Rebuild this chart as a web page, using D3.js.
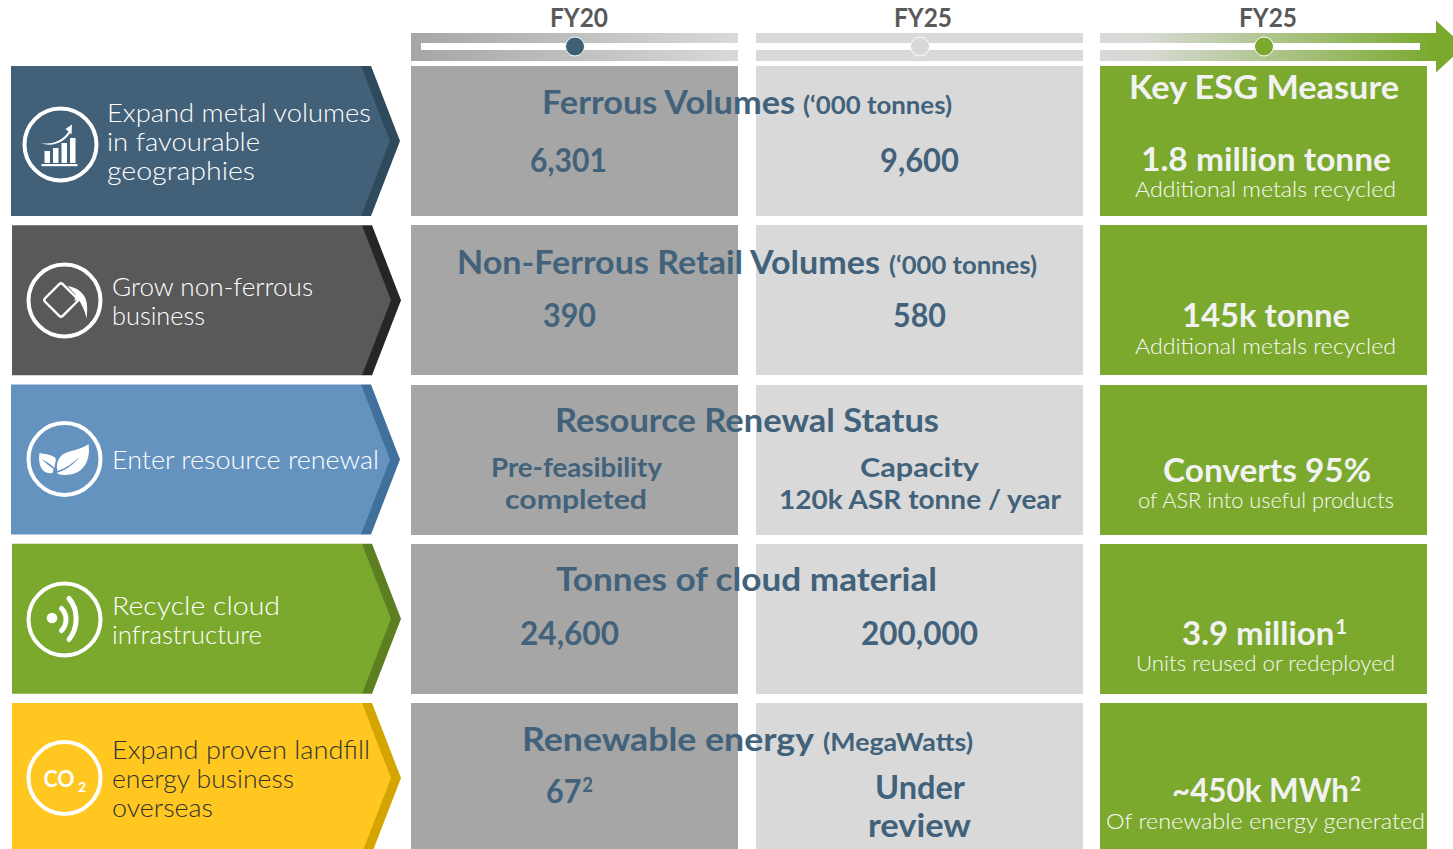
<!DOCTYPE html>
<html><head><meta charset="utf-8">
<script src="https://cdn.jsdelivr.net/npm/d3@7/dist/d3.min.js"></script>
<style>html,body{margin:0;padding:0;background:#fff;overflow:hidden}svg{display:block}text{font-family:Lato,"Open Sans",sans-serif}</style>
</head><body><svg id="c" width="1453" height="849"></svg>
<script>
const rowKeys = ["metal","nonferrous","renewal","cloud","landfill"];
const columns = ["FY20","FY25","ESG"];
const timelineLabels = ["FY20","FY25","FY25"];
const rowLabels = [
  ["Expand metal volumes","in favourable","geographies"],
  ["Grow non-ferrous","business"],
  ["Enter resource renewal"],
  ["Recycle cloud","infrastructure"],
  ["Expand proven landfill","energy business","overseas"]
];
const rowFill = ["#426077","#595959","#6593bf","#7aa92d","#ffc71f"];
const rowDark = ["#2f4a5c","#262626","#41709c","#5c7f22","#d4a500"];
const columnFill = ["#a6a6a6","#d9d9d9","#7aa92d"];
const nodeFill = ["#3f5f75","#d9d9d9","#7aa92d"];
const ink = "#41627a", pale = "#f2f2f2", light = "#fafafa";

// [text, x-left, x-right, baseline, size, weight, colour, superscript]
const T = [
 ["FY20",550,608,27,26,700,"#595959"],["FY25",894,952,27,26,700,"#595959"],["FY25",1239,1297,27,26,700,"#595959"],
 ["Ferrous Volumes",542,795,114,33,700,ink],["(‘000 tonnes)",803,952,114,25,700,ink],
 ["6,301",530,607,172,33,700,ink],["9,600",880,959,172,33,700,ink],
 ["Non-Ferrous Retail Volumes",457,880,274,33,700,ink],["(‘000 tonnes)",889,1037,274,25,700,ink],
 ["390",543,596,327,33,700,ink],["580",893,946,327,33,700,ink],
 ["Resource Renewal Status",555,939,432,33,700,ink],
 ["Pre-feasibility",491,662,477,27,700,ink],["completed",505,647,509,27,700,ink],
 ["Capacity",860,979,477,27,700,ink],["120k ASR tonne / year",779,1061,509,27,700,ink],
 ["Tonnes of cloud material",556,937,591,33,700,ink],["24,600",520,619,645,33,700,ink],["200,000",861,978,645,33,700,ink],
 ["Renewable energy",522,814,751,33,700,ink],["(MegaWatts)",823,973,751,25,700,ink],
 ["67",546,593,803,33,700,ink,"2"],
 ["Under",875,965,799,33,700,ink],["review",868,971,837,33,700,ink],
 ["Key ESG Measure",1129,1399,99,33,700,pale],
 ["1.8 million tonne",1141,1391,171,33,700,pale],["Additional metals recycled",1135,1396,197,21.5,300,light],
 ["145k tonne",1182,1350,327,33,700,pale],["Additional metals recycled",1135,1396,354,21.5,300,light],
 ["Converts 95%",1163,1371,482,33,700,pale],["of ASR into useful products",1138,1394,508,21.5,300,light],
 ["3.9 million",1182,1347,645,33,700,pale,"1"],["Units reused or redeployed",1136,1395,671,21.5,300,light],
 ["~450k MWh",1172,1361,802,33,700,pale,"2"],["Of renewable energy generated",1106,1425,829,21.5,300,light]
];
const labelX = [[107,[371,260,255]],[112,[313,205]],[112,[379]],[112,[280,262]],[112,[370,294,213]]];
const labelBase = [122,296,469,615,759];

const svg = d3.select("#c");
const defs = svg.append("defs");
const y = d3.scaleBand().domain(rowKeys).range([66,853]).paddingInner(9.25/159.25);
const x = d3.scaleBand().domain(columns).range([411,1427]).paddingInner(17.5/344.5);

function grad(id,x1,x2,stops){
  const g=defs.append("linearGradient").attr("id",id).attr("gradientUnits","userSpaceOnUse")
    .attr("x1",x1).attr("x2",x2).attr("y1",0).attr("y2",0);
  stops.forEach(s=>g.append("stop").attr("offset",s[0]).attr("stop-color",s[1]));
}
grad("g1",x("FY20"),x("FY20")+x.bandwidth(),[[0,"#a6a6a6"],[1,"#d9d9d9"]]);
grad("g3",x("ESG"),1436,[[0,"#d9d9d9"],[0.15,"#d6d9d2"],[1,"#7aa92d"]]);

const bandTop=33, bandBot=61;
const bandFill=["url(#g1)","#d9d9d9","url(#g3)"];
svg.selectAll("rect.band").data(columns).join("rect").attr("class","band")
  .attr("x",d=>x(d)).attr("y",bandTop).attr("shape-rendering","crispEdges")
  .attr("width",(d,i)=>i==2?1436-x(d):x.bandwidth()).attr("height",bandBot-bandTop)
  .attr("fill",(d,i)=>bandFill[i]);
svg.append("path").attr("d","M1436,20.5L1464,46.5L1436,72.5Z").attr("fill","#7aa92d");
svg.append("rect").attr("x",421).attr("y",43).attr("width",999).attr("height",7).attr("fill","#fff");
const nodeX=[575,920,1264];
svg.selectAll("circle.node").data(columns).join("circle").attr("class","node")
  .attr("cx",(d,i)=>nodeX[i]).attr("cy",46.5).attr("r",9.5)
  .attr("fill",(d,i)=>nodeFill[i]).attr("stroke","#fff").attr("stroke-width",1);

rowKeys.forEach(r=>{
  columns.forEach((c,i)=>{
    svg.append("rect").attr("x",x(c)).attr("y",y(r)).attr("width",x.bandwidth()).attr("height",y.bandwidth()).attr("fill",columnFill[i]).attr("shape-rendering","crispEdges");
  });
});

rowKeys.forEach((r,i)=>{
  const t=y(r), b=t+y.bandwidth(), m=(t+b)/2, L=i==0||i==2?11:12, bx=361+(i==0||i==2?0:1);
  svg.append("path").attr("d",`M${bx},${t}L${bx+10},${t}L${bx+39},${m}L${bx+10},${b}L${bx},${b}Z`).attr("fill",rowDark[i]);
  svg.append("path").attr("d",`M${L},${t}L${bx},${t}L${bx+29},${m}L${bx},${b}L${L},${b}Z`).attr("fill",rowFill[i]);
  rowLabels[i].forEach((s,k)=>{
    T.push([s,labelX[i][0],labelX[i][1][k],labelBase[i]+29*k,25.5,300,i==4?"#333333":"#ffffff"]);
  });
});

const iconC=[[60.5,144.5],[64.5,300.5],[64.5,459],[64.5,619.5],[64.5,778]];
iconC.forEach(c=>svg.append("circle").attr("cx",c[0]).attr("cy",c[1]).attr("r",36).attr("fill","none").attr("stroke","#fff").attr("stroke-width",4));
const ic=i=>svg.append("g").attr("transform",`translate(${iconC[i][0]},${iconC[i][1]})`).attr("fill","#fff");
const g1=ic(0);
[[-16,6.5],[-7.5,4],[1,-1],[9.5,-6]].forEach((b,i)=>{ g1.append("rect").attr("x",b[0]).attr("y",[6.5,3.5,-1.5,-6.5][i]).attr("width",5.5).attr("height",[12,15,20,25][i]); });
g1.append("rect").attr("x",-19).attr("y",19.5).attr("width",36).attr("height",2.2);
g1.append("path").attr("d","M-20,-1.5C-7,1 3,-5 8,-13L5,-15.5L11.5,-20L11,-10L9.5,-11.5C4,-2 -8,3 -20,-1.5Z");
const g2=ic(1);
g2.append("rect").attr("x",-12.5).attr("y",-12.5).attr("width",25).attr("height",25).attr("rx",2.5).attr("fill","none").attr("stroke","#fff").attr("stroke-width",2.4).attr("transform","translate(-3.5,-0.5) rotate(45)");
g2.append("path").attr("d","M3,-14.5C13,-13.5 21.5,-6 22.3,3C23,8 22.6,13 22,18C20.5,10 17,3 13,-2L10,1L11,-6Z");
const g3=ic(2);
g3.append("path").attr("d","M24,-15C26,-2 22,16 0,16C-4,16 -6,15 -8,14C-1,12 8,7 15,-2C8,4 2,9 -7,12C-9,5 -6,-3 1,-6C8,-9 18,-10 24,-15Z");
g3.append("path").attr("d","M-25,-6C-21,-5 -13,-5 -9,-1C-8,2 -10,5 -10,9C-14,5 -19,2 -23,0C-19,4 -15,7 -11,10L-12,14C-22,16 -27,6 -25,-6Z");
const g4=ic(3);
g4.append("circle").attr("cx",-12.5).attr("cy",-1.5).attr("r",5.3);
g4.append("path").attr("d","M-3,-11C3,-5 3,5 -3,11").attr("fill","none").attr("stroke","#fff").attr("stroke-width",5).attr("stroke-linecap","round");
g4.append("path").attr("d","M4.5,-21C14,-10 14,8 4.5,20").attr("fill","none").attr("stroke","#fff").attr("stroke-width",5).attr("stroke-linecap","round");
const g5=ic(4);
g5.append("text").attr("x",-21).attr("y",8.5).attr("font-size",22).attr("font-weight",700).attr("fill","#fff").attr("textLength",31).attr("lengthAdjust","spacingAndGlyphs").text("CO");
g5.append("text").attr("x",13.5).attr("y",14).attr("font-size",14).attr("font-weight",700).attr("fill","#fff").text("2");

svg.selectAll("text.t").data(T).join("text").attr("class","t")
  .attr("x",d=>d[1]).attr("y",d=>d[3]).attr("font-size",d=>d[4]).attr("font-weight",d=>d[5]).attr("fill",d=>d[6])
  .attr("textLength",d=>d[2]-d[1]).attr("lengthAdjust","spacingAndGlyphs")
  .each(function(d){
    const s=d3.select(this);
    s.append("tspan").text(d[0]);
    if(d[7]) s.append("tspan").attr("dx",1).attr("dy",-11).attr("font-size",20).text(d[7]);
  });
</script></body></html>
